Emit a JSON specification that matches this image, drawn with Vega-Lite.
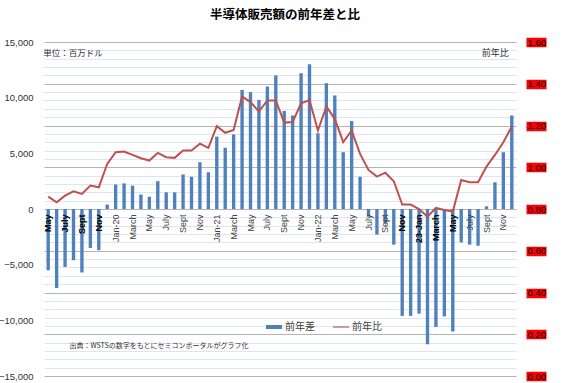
{
  "$schema": "https://vega.github.io/schema/vega-lite/v6.json",
  "width": 472,
  "height": 334,
  "autosize": {"type": "none"},
  "padding": {"left": 44, "top": 42, "right": 51, "bottom": 7},
  "background": "white",
  "title": {"text": "半導体販売額の前年差と比", "font": "Noto Sans CJK JP", "fontSize": 12.5, "fontWeight": "bold", "color": "#000000", "offset": 16, "dx": 5},
  "data": {"values": [
    {"month": "2019-05", "diff": -5500, "ratio": 0.859},
    {"month": "2019-06", "diff": -7100, "ratio": 0.832},
    {"month": "2019-07", "diff": -5200, "ratio": 0.864},
    {"month": "2019-08", "diff": -4600, "ratio": 0.885},
    {"month": "2019-09", "diff": -5700, "ratio": 0.872},
    {"month": "2019-10", "diff": -3500, "ratio": 0.912},
    {"month": "2019-11", "diff": -3700, "ratio": 0.904},
    {"month": "2019-12", "diff": 400, "ratio": 1.016},
    {"month": "2020-01", "diff": 2200, "ratio": 1.072},
    {"month": "2020-02", "diff": 2300, "ratio": 1.075},
    {"month": "2020-03", "diff": 2100, "ratio": 1.059},
    {"month": "2020-04", "diff": 1300, "ratio": 1.043},
    {"month": "2020-05", "diff": 1100, "ratio": 1.032},
    {"month": "2020-06", "diff": 2500, "ratio": 1.069},
    {"month": "2020-07", "diff": 1500, "ratio": 1.048},
    {"month": "2020-08", "diff": 1500, "ratio": 1.045},
    {"month": "2020-09", "diff": 3100, "ratio": 1.08},
    {"month": "2020-10", "diff": 2900, "ratio": 1.08},
    {"month": "2020-11", "diff": 4200, "ratio": 1.113},
    {"month": "2020-12", "diff": 3300, "ratio": 1.093},
    {"month": "2021-01", "diff": 6500, "ratio": 1.197},
    {"month": "2021-02", "diff": 5500, "ratio": 1.165},
    {"month": "2021-03", "diff": 6700, "ratio": 1.179},
    {"month": "2021-04", "diff": 10700, "ratio": 1.339},
    {"month": "2021-05", "diff": 10500, "ratio": 1.312},
    {"month": "2021-06", "diff": 9800, "ratio": 1.267},
    {"month": "2021-07", "diff": 11000, "ratio": 1.32},
    {"month": "2021-08", "diff": 12000, "ratio": 1.32},
    {"month": "2021-09", "diff": 8800, "ratio": 1.214},
    {"month": "2021-10", "diff": 8400, "ratio": 1.217},
    {"month": "2021-11", "diff": 12200, "ratio": 1.306},
    {"month": "2021-12", "diff": 13000, "ratio": 1.322},
    {"month": "2022-01", "diff": 6800, "ratio": 1.176},
    {"month": "2022-02", "diff": 11300, "ratio": 1.291},
    {"month": "2022-03", "diff": 10200, "ratio": 1.232},
    {"month": "2022-04", "diff": 5100, "ratio": 1.12},
    {"month": "2022-05", "diff": 7900, "ratio": 1.176},
    {"month": "2022-06", "diff": 2900, "ratio": 1.064},
    {"month": "2022-07", "diff": -700, "ratio": 0.987},
    {"month": "2022-08", "diff": -2300, "ratio": 0.955},
    {"month": "2022-09", "diff": -1300, "ratio": 0.974},
    {"month": "2022-10", "diff": -3200, "ratio": 0.933},
    {"month": "2022-11", "diff": -9600, "ratio": 0.821},
    {"month": "2022-12", "diff": -9600, "ratio": 0.821},
    {"month": "2023-01", "diff": -9400, "ratio": 0.8},
    {"month": "2023-02", "diff": -12150, "ratio": 0.763},
    {"month": "2023-03", "diff": -10600, "ratio": 0.805},
    {"month": "2023-04", "diff": -9650, "ratio": 0.795},
    {"month": "2023-05", "diff": -11000, "ratio": 0.788},
    {"month": "2023-06", "diff": -3000, "ratio": 0.939},
    {"month": "2023-07", "diff": -3200, "ratio": 0.928},
    {"month": "2023-08", "diff": -3300, "ratio": 0.928},
    {"month": "2023-09", "diff": 240, "ratio": 1.003},
    {"month": "2023-10", "diff": 2400, "ratio": 1.059},
    {"month": "2023-11", "diff": 5100, "ratio": 1.12},
    {"month": "2023-12", "diff": 8400, "ratio": 1.195}
  ]},
  "encoding": {
    "x": {
      "field": "month",
      "type": "ordinal",
      "scale": {"paddingInner": 0.6, "paddingOuter": 0.3},
      "axis": {
        "title": null,
        "labelAngle": -90,
        "labelExpr": "substring(datum.value,5,7)=='01' ? (datum.value=='2023-01' ? '23-Jan' : 'Jan-' + substring(datum.value,2,4)) : substring(datum.value,5,7)=='03' ? 'March' : substring(datum.value,5,7)=='05' ? 'May' : substring(datum.value,5,7)=='07' ? 'July' : substring(datum.value,5,7)=='09' ? 'Sept' : substring(datum.value,5,7)=='11' ? 'Nov' : ''",
        "labelOverlap": false,
        "ticks": false,
        "domain": false,
        "grid": false,
        "offset": -167,
        "labelPadding": 5,
        "labelFont": "Liberation Sans",
        "labelFontSize": 9,
        "labelColor": {"condition": {"test": "datum.value < '2019-12' || (datum.value > '2022-10' && datum.value < '2023-06')", "value": "#000000"}, "value": "#404040"},
        "labelFontWeight": {"condition": {"test": "datum.value < '2019-12' || (datum.value > '2022-10' && datum.value < '2023-06')", "value": "bold"}, "value": "normal"},
        "zindex": 1
      }
    }
  },
  "layer": [
    {
      "data": {"values": [{}]},
      "mark": {"type": "point", "opacity": 0},
      "encoding": {
        "x": {"datum": "2019-05"},
        "y": {
          "datum": 0,
          "scale": {"domain": [0, 1.6], "nice": false, "zero": false},
          "axis": {
            "orient": "left",
            "title": null,
            "values": [0.04, 0.08, 0.12, 0.16, 0.24, 0.28, 0.32, 0.36, 0.44, 0.48, 0.52, 0.56, 0.64, 0.68, 0.72, 0.76, 0.84, 0.88, 0.92, 0.96, 1.04, 1.08, 1.12, 1.16, 1.24, 1.28, 1.32, 1.36, 1.44, 1.48, 1.52, 1.56],
            "labels": false,
            "ticks": false,
            "domain": false,
            "grid": true,
            "gridColor": "#DCE6F2",
            "gridWidth": 1
          }
        }
      }
    },
    {
      "data": {"values": [{}]},
      "mark": {"type": "point", "opacity": 0},
      "encoding": {
        "x": {"datum": "2019-05"},
        "y": {
          "datum": 0,
          "scale": {"domain": [0, 1.6], "nice": false, "zero": false},
          "axis": {
            "orient": "left",
            "title": null,
            "values": [0, 0.2, 0.4, 0.6, 0.8, 1, 1.2, 1.4, 1.6],
            "labels": false,
            "ticks": false,
            "domain": false,
            "grid": true,
            "gridColor": "#B4B4B4",
            "gridWidth": 1
          }
        }
      }
    },
    {
      "mark": {"type": "bar"},
      "encoding": {
        "y": {
          "field": "diff",
          "type": "quantitative",
          "scale": {"domain": [-15000, 15000], "nice": false, "zero": false},
          "axis": {
            "orient": "left",
            "title": null,
            "values": [-15000, -10000, -5000, 0, 5000, 10000, 15000],
            "format": ",.0f",
            "labelOverlap": false,
            "ticks": false,
            "domain": false,
            "grid": false,
            "labelFont": "Liberation Sans",
            "labelFontSize": 9.5,
            "labelColor": "#333333",
            "labelPadding": 11
          }
        },
        "color": {
          "datum": "前年差",
          "scale": {"domain": ["前年差", "前年比"], "range": ["#4F81BD", "#C0504D"]},
          "legend": {
            "orient": "none",
            "legendX": 222,
            "legendY": 277,
            "direction": "horizontal",
            "title": null,
            "padding": 0,
            "labelFont": "Noto Sans CJK JP",
            "labelFontSize": 10,
            "labelColor": "#404040",
            "columnPadding": 18,
            "labelOffset": 3,
            "symbolSize": 256,
            "encode": {
              "symbols": {
                "update": {
                  "shape": {"signal": "datum.value === '前年差' ? 'M-1,-0.25H1V0.25H-1Z' : 'M-1,-0.07H1V0.07H-1Z'"},
                  "fill": {"scale": "color", "field": "value"},
                  "stroke": {"value": "transparent"},
                  "strokeWidth": {"value": 0},
                  "opacity": {"value": 1}
                }
              }
            }
          }
        }
      }
    },
    {
      "mark": {"type": "line", "strokeWidth": 2},
      "encoding": {
        "y": {
          "field": "ratio",
          "type": "quantitative",
          "scale": {"domain": [0, 1.6], "nice": false, "zero": false},
          "axis": {
            "orient": "right",
            "title": null,
            "values": [0, 0.2, 0.4, 0.6, 0.8, 1, 1.2, 1.4, 1.6],
            "format": ".2f",
            "grid": false,
            "domain": false,
            "ticks": true,
            "tickColor": "#FF0000",
            "tickSize": 20,
            "tickWidth": 9.5,
            "tickCap": "butt",
            "labelPadding": -19,
            "labelFont": "Liberation Sans",
            "labelFontSize": 9.5,
            "labelColor": "#000000",
            "labelOverlap": false,
            "offset": 10,
            "zindex": 1
          }
        },
        "color": {"datum": "前年比"}
      }
    },
    {
      "data": {"values": [{}]},
      "mark": {"type": "text", "font": "Noto Sans CJK JP", "fontSize": 8.5, "color": "#333333", "align": "left", "baseline": "middle", "dx": -5},
      "encoding": {"x": {"datum": "2019-05"}, "y": {"datum": 14000, "scale": {"domain": [-15000, 15000], "nice": false, "zero": false}, "axis": null}, "text": {"value": "単位：百万ドル"}}
    },
    {
      "data": {"values": [{}]},
      "mark": {"type": "text", "font": "Noto Sans CJK JP", "fontSize": 9, "color": "#333333", "align": "right", "baseline": "middle", "dx": -3},
      "encoding": {"x": {"datum": "2023-12"}, "y": {"datum": 14000, "scale": {"domain": [-15000, 15000], "nice": false, "zero": false}, "axis": null}, "text": {"value": "前年比"}}
    },
    {
      "data": {"values": [{}]},
      "mark": {"type": "text", "font": "Noto Sans CJK JP", "fontSize": 7, "color": "#333333", "align": "left", "baseline": "middle", "dx": -4},
      "encoding": {"x": {"datum": "2019-08"}, "y": {"datum": -12300, "scale": {"domain": [-15000, 15000], "nice": false, "zero": false}, "axis": null}, "text": {"value": "出典：WSTSの数字をもとにセミコンポータルがグラフ化"}}
    }
  ],
  "resolve": {"scale": {"y": "independent"}},
  "config": {"view": {"stroke": null}}
}
